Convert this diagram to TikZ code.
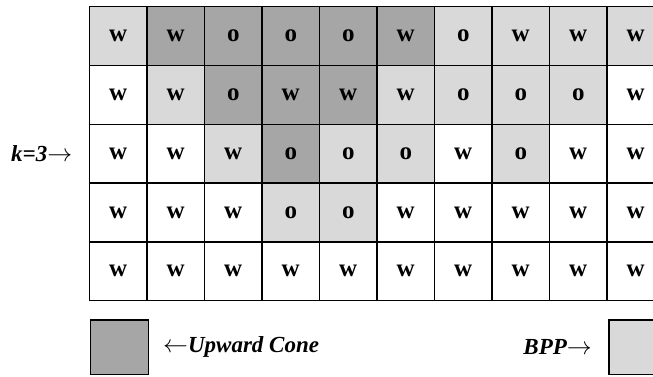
\documentclass[tikz,border=0pt]{standalone}
\usepackage{fontspec}
\setmainfont{Liberation Serif}
\definecolor{cD}{HTML}{A6A6A6}
\definecolor{cL}{HTML}{D9D9D9}
\definecolor{cW}{HTML}{FFFFFF}
\begin{document}
\begin{tikzpicture}[x=1pt,y=-1pt,
  cell/.style={draw=black,line width=1.5pt,minimum width=57.5pt,minimum height=58.8pt,inner sep=0pt,
    font=\fontsize{25}{25}\selectfont\bfseries},
  lbl/.style={inner sep=0pt,font=\fontsize{23}{23}\selectfont\bfseries\itshape},
  legbox/.style={draw=black,line width=1.5pt,inner sep=0pt}]
\useasboundingbox (0,0) rectangle (653,377);
\clip (0,0) rectangle (653,377);
\fill[white] (0,0) rectangle (653,377);
\foreach \f/\t [count=\c] in {L/w,D/w,D/o,D/o,D/o,D/w,L/o,L/w,L/w,L/w}
  \node[cell,fill=c\f] (r1c\c) at ({89.5+57.5*(\c-0.5)},{6.7+58.8*0.5}) {\t};
\foreach \f/\t [count=\c] in {W/w,L/w,D/o,D/w,D/w,L/w,L/o,L/o,L/o,W/w}
  \node[cell,fill=c\f] (r2c\c) at ({89.5+57.5*(\c-0.5)},{6.7+58.8*1.5}) {\t};
\foreach \f/\t [count=\c] in {W/w,W/w,L/w,D/o,L/o,L/o,W/w,L/o,W/w,W/w}
  \node[cell,fill=c\f] (r3c\c) at ({89.5+57.5*(\c-0.5)},{6.7+58.8*2.5}) {\t};
\foreach \f/\t [count=\c] in {W/w,W/w,W/w,L/o,L/o,W/w,W/w,W/w,W/w,W/w}
  \node[cell,fill=c\f] (r4c\c) at ({89.5+57.5*(\c-0.5)},{6.7+58.8*3.5}) {\t};
\foreach \f/\t [count=\c] in {W/w,W/w,W/w,W/w,W/w,W/w,W/w,W/w,W/w,W/w}
  \node[cell,fill=c\f] (r5c\c) at ({89.5+57.5*(\c-0.5)},{6.7+58.8*4.5}) {\t};
\node[lbl,anchor=west] (k) at (11,154) {k=3$\rightarrow$};
\node[legbox,fill=cD,minimum width=57.6pt,minimum height=54.3pt] (up) at (119.5,347.2) {};
\node[legbox,fill=cL,minimum width=57pt,minimum height=54.3pt,anchor=west] (bpp) at (608.3,347.2) {};
\node[lbl,anchor=west] (upt) at (163,347) {$\leftarrow$Upward Cone};
\node[lbl,anchor=east] (bppt) at (592,347) {BPP$\rightarrow$};
\end{tikzpicture}
\end{document}
